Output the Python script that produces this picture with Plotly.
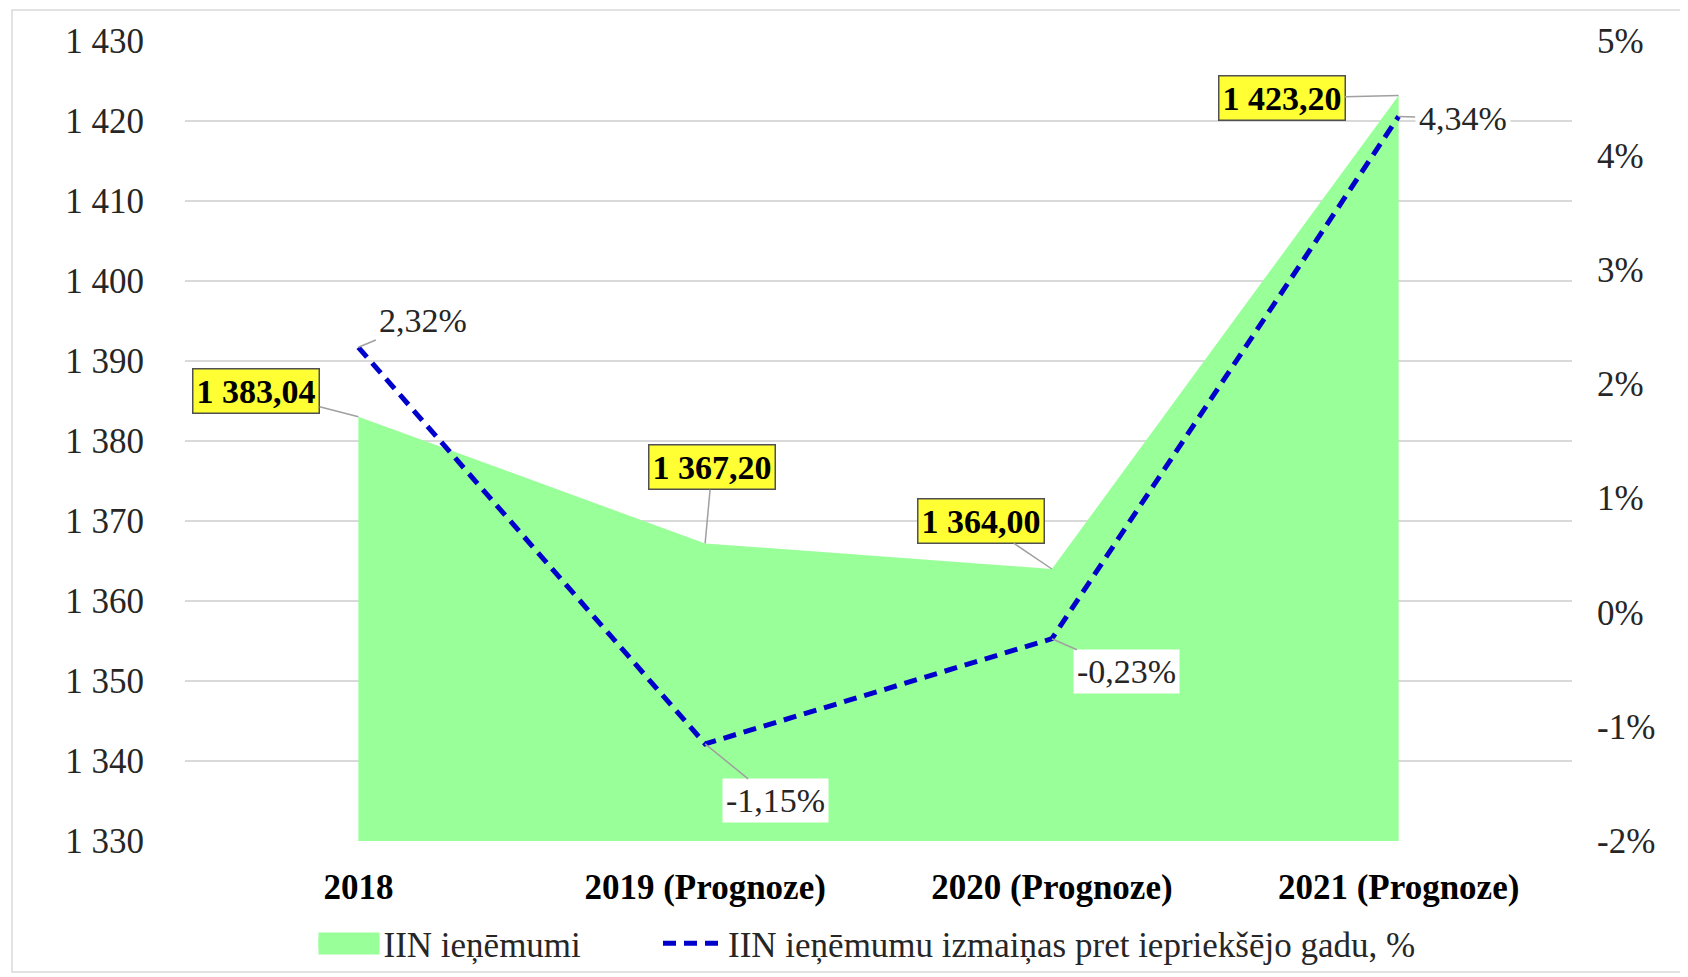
import plotly.graph_objects as go

categories = ["2018", "2019 (Prognoze)", "2020 (Prognoze)", "2021 (Prognoze)"]
revenue = [1383.04, 1367.20, 1364.00, 1423.20]
change_pct = [2.32, -1.15, -0.23, 4.34]
left_ticks = [1330, 1340, 1350, 1360, 1370, 1380, 1390, 1400, 1410, 1420, 1430]
right_ticks = [-2, -1, 0, 1, 2, 3, 4, 5]
right_tick_labels = [f"{t}%" for t in right_ticks]
series_names = ["IIN ieņēmumi", "IIN ieņēmumu izmaiņas pret iepriekšējo gadu, %"]

# label offsets (pixels) for the data-label boxes
rev_offsets = [(-102, -26), (7, -76), (-71, -48), (-117, 3)]
pct_offsets = [(65, -27), (70, 57), (75, 33), (64, 2)]

FONT = "Liberation Serif"
FS = 35
GREEN = "#99FF99"
BLUE = "#0000CC"

# page body has an 8px margin, so the figure is 8px smaller than the window
W, H = 1680, 969
L, R, T, B = 177, 116, 33, 136
PW, PH = W - L - R, H - T - B

LEG1_X = 313.5 - 8   # figure px, left of legend 1
LEG2_X = 658 - 8     # figure px, left of legend 2
LEG_Y = -0.128


def fmt_num(v):
    return f"{v:,.2f}".replace(",", " ").replace(".", ",")


def fmt_pct(v):
    return f"{v:.2f}".replace(".", ",") + "%"


fig = go.Figure()
fig.add_trace(go.Scatter(
    x=categories, y=revenue, name=series_names[0],
    mode="none", fill="tozeroy", fillcolor=GREEN,
    hoverinfo="skip", showlegend=False,
))
# legend-only entry for the area
fig.add_trace(go.Scatter(
    x=[None], y=[None], name=series_names[0], mode="lines",
    line=dict(color=GREEN, width=22), legend="legend",
))
fig.add_trace(go.Scatter(
    x=categories, y=change_pct, name=series_names[1], yaxis="y2",
    mode="lines", line=dict(color=BLUE, width=5, dash="13px,8px"),
    hoverinfo="skip", legend="legend2",
))

annotations = []
for i, (v, (ax, ay)) in enumerate(zip(revenue, rev_offsets)):
    annotations.append(dict(
        x=i, y=v, xref="x", yref="y", text="<b>" + fmt_num(v) + "</b>",
        showarrow=True, arrowhead=0, arrowwidth=1.5, arrowcolor="#A0A0A0",
        ax=ax, ay=ay, font=dict(family=FONT, size=FS - 1, color="#000000"),
        bgcolor="#FFFF33", bordercolor="#505050", borderwidth=1.5, borderpad=3,
    ))
for i, (v, (ax, ay)) in enumerate(zip(change_pct, pct_offsets)):
    annotations.append(dict(
        x=i, y=v, xref="x", yref="y2", text=fmt_pct(v),
        showarrow=True, arrowhead=0, arrowwidth=1.5, arrowcolor="#A0A0A0",
        ax=ax, ay=ay, font=dict(family=FONT, size=FS - 1, color="#262626"),
        bgcolor="#FFFFFF", borderpad=3,
    ))

legend_common = dict(orientation="h", xanchor="left", y=LEG_Y, yanchor="middle",
                     font=dict(family=FONT, size=FS, color="#262626"),
                     itemwidth=60, bgcolor="rgba(0,0,0,0)")

# rectangular swatch for the area legend entry (sits under the legend swatch)
sw_x0 = LEG1_X + 5
sw_cy = T + PH * (1 - LEG_Y)

fig.update_layout(
    width=W, height=H,
    margin=dict(l=L, r=R, t=T, b=B, autoexpand=False),
    paper_bgcolor="#FFFFFF", plot_bgcolor="#FFFFFF",
    separators=", ",
    font=dict(family=FONT, size=FS, color="#262626"),
    showlegend=True,
    legend=dict(x=(LEG1_X - L) / PW, **legend_common),
    legend2=dict(x=(LEG2_X - L) / PW, **legend_common),
    xaxis=dict(
        type="category", range=[-0.5, 3.5], showgrid=False, zeroline=False,
        showline=False, ticks="", ticklabelstandoff=22, automargin=False,
        tickfont=dict(family=FONT, size=FS, color="#000000", weight="bold"),
    ),
    yaxis=dict(
        range=[1330, 1430], tickvals=left_ticks, tickformat=",d",
        showgrid=True, gridcolor="#D9D9D9", gridwidth=1.5, zeroline=False,
        showline=False, ticks="", ticklabelstandoff=40, automargin=False,
        tickfont=dict(family=FONT, size=FS, color="#262626"),
    ),
    yaxis2=dict(
        range=[-2, 5], tickvals=right_ticks, ticktext=right_tick_labels,
        overlaying="y", side="right", showgrid=False, zeroline=False,
        showline=False, ticks="", ticklabelstandoff=24, automargin=False,
        tickfont=dict(family=FONT, size=FS, color="#262626"),
    ),
    annotations=annotations,
    shapes=[
        dict(type="rect", xref="paper", yref="paper",
             x0=(4 - L) / PW, x1=(1700 - L) / PW,
             y0=-(964 - (T + PH)) / PH, y1=1 + (T - 2) / PH,
             line=dict(color="#D9D9D9", width=1.5), layer="below"),
        dict(type="rect", xref="paper", yref="paper",
             x0=(sw_x0 - L) / PW, x1=(sw_x0 + 61 - L) / PW,
             y0=-(sw_cy + 11 - (T + PH)) / PH, y1=-(sw_cy - 11 - (T + PH)) / PH,
             fillcolor=GREEN, line=dict(width=0), layer="above"),
    ],
)

fig.write_html("out.html")
